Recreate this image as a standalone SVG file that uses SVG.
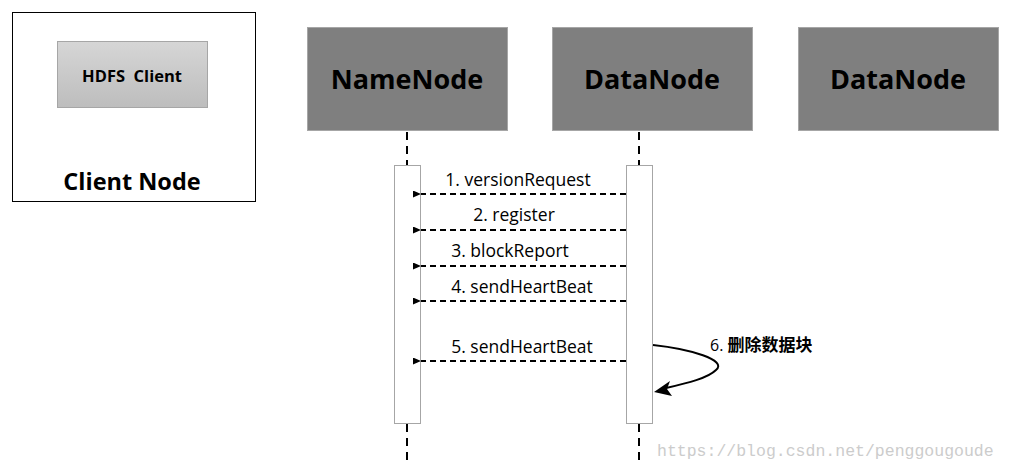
<svg xmlns="http://www.w3.org/2000/svg" width="1009" height="470" viewBox="0 0 1009 470">
<defs>
<linearGradient id="g" x1="0" y1="0" x2="0" y2="1"><stop offset="0" stop-color="#d6d6d6"/><stop offset="1" stop-color="#bdbdbd"/></linearGradient>
<marker id="ah" markerWidth="8" markerHeight="7" refX="0" refY="3.5" orient="auto" markerUnits="userSpaceOnUse"><path d="M0,3.5 L8,0 L8,7 Z" fill="#000"/></marker>
</defs>
<style>
.t{font-family:"Open Sans","Liberation Sans",sans-serif;fill:#000}
.h{font-weight:bold;font-size:27px}
.lbl{font-size:17.5px}
.node{fill:#7f7f7f;stroke:#a6a6a6;stroke-width:1}
.life{stroke:#000;stroke-width:2;stroke-dasharray:8,6;fill:none}
.act{fill:#fff;stroke:#a6a6a6;stroke-width:1}
.msg{stroke:#000;stroke-width:2;stroke-dasharray:6,4;fill:none}
</style>
<rect width="1009" height="470" fill="#fff"/>
<g id="client-node">
<rect x="12.5" y="12.5" width="243" height="189" fill="#fff" stroke="#000" stroke-width="1"/>
<rect x="57.5" y="41.5" width="150" height="66" fill="url(#g)" stroke="#a6a6a6"/>
<text class="t" x="132" y="82" text-anchor="middle" font-weight="bold" font-size="16.5" xml:space="preserve" style="white-space:pre">HDFS  Client</text>
<text class="t" x="132" y="190" text-anchor="middle" font-weight="bold" font-size="23.5">Client Node</text>
</g>
<g id="namenode">
<rect class="node" x="307.5" y="27.5" width="200" height="103"/>
<text class="t h" x="407" y="89" text-anchor="middle">NameNode</text>
</g>
<g id="datanode1">
<rect class="node" x="552.5" y="27.5" width="200" height="103"/>
<text class="t h" x="652" y="89" text-anchor="middle">DataNode</text>
</g>
<g id="datanode2">
<rect class="node" x="798.5" y="27.5" width="200" height="103"/>
<text class="t h" x="898" y="89" text-anchor="middle">DataNode</text>
</g>
<g id="lifelines">
<line class="life" x1="407" y1="132" x2="407" y2="165"/>
<line class="life" x1="407" y1="424" x2="407" y2="460"/>
<rect class="act" x="394.5" y="165.5" width="26" height="258"/>
<line class="life" x1="639" y1="132" x2="639" y2="165"/>
<line class="life" x1="639" y1="424" x2="639" y2="460"/>
<rect class="act" x="626.5" y="165.5" width="26" height="258"/>
</g>
<g id="connectors">
<line class="msg" x1="626" y1="194" x2="421" y2="194" marker-end="url(#ah)"/>
<line class="msg" x1="626" y1="230" x2="421" y2="230" marker-end="url(#ah)"/>
<line class="msg" x1="626" y1="266" x2="421" y2="266" marker-end="url(#ah)"/>
<line class="msg" x1="626" y1="301" x2="421" y2="301" marker-end="url(#ah)"/>
<line class="msg" x1="626" y1="361" x2="421" y2="361" marker-end="url(#ah)"/>
<path d="M653,345 C690,349 728,360 716,370 C708,378 688,383 666,388" fill="none" stroke="#000" stroke-width="2"/>
<path d="M654,392 L670,381 L667,389 L672,396 Z" fill="#000"/>
<text class="t lbl" x="518" y="186" text-anchor="middle">1. versionRequest</text>
<text class="t lbl" x="514" y="221" text-anchor="middle">2. register</text>
<text class="t lbl" x="510" y="257" text-anchor="middle">3. blockReport</text>
<text class="t lbl" x="522" y="293" text-anchor="middle">4. sendHeartBeat</text>
<text class="t lbl" x="522" y="353" text-anchor="middle">5. sendHeartBeat</text>
<text class="t" x="710" y="351" font-size="16">6. <tspan font-family="'Noto Sans CJK SC',sans-serif" font-weight="bold" font-size="17">删除数据块</tspan></text>
</g>
<text x="657" y="456" font-family="'Liberation Mono','DejaVu Sans Mono',monospace" font-size="16.5" fill="#cccccc">https://blog.csdn.net/penggougoude</text>
</svg>
